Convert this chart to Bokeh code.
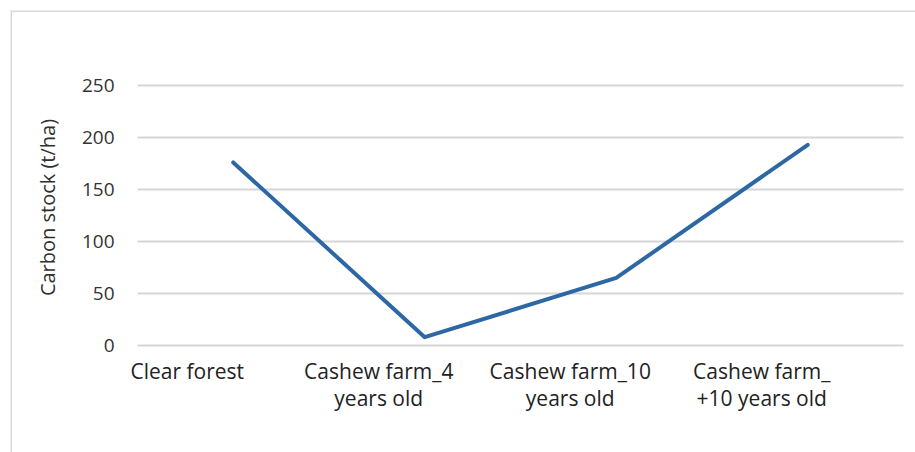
import math
from bokeh.plotting import figure
from bokeh.models import Range1d, Span
from bokeh.core.properties import value
from bokeh.embed import file_html
from bokeh.resources import INLINE

# Carbon stock per land-use stage
categories = ["Clear forest", "Cashew farm_4\nyears old",
              "Cashew farm_10\nyears old", "Cashew farm_\n+10 years old"]
carbon_stock = [176, 8, 65, 193]
y_ticks = [0, 50, 100, 150, 200, 250]
y_tick_labels = ["0", "50", "100", "150", "200", "250"]
y_title = "Carbon stock (t/ha)"

FONT = value("Open Sans")
LINE_BLUE = "#2d68a5"
GRID_GREY = "#d6d6d6"
BORDER_GREY = "#d9d9d9"

idx = list(range(len(categories)))

# the frame fills the whole chart area; one category step is 191.5 px,
# one value unit is 1.04 px
px_x, px_y = 191.5, 1.04
x_start = -0.5 - (137 - 10) / px_x
y_end = 250 + (85 - 10) / px_y
p = figure(width=915, height=452,
           x_range=Range1d(x_start, x_start + 905 / px_x),
           y_range=Range1d(y_end - 442 / px_y, y_end),
           output_backend="svg", toolbar_location=None,
           min_border_left=10, min_border_top=10,
           min_border_right=0, min_border_bottom=0)
p.axis.visible = False
p.grid.visible = False
p.outline_line_color = None
p.background_fill_color = "white"
p.border_fill_color = "white"

# chart-area border: top and left edges
p.add_layout(Span(location=x_start, dimension="height",
                  line_color=BORDER_GREY, line_width=3))
p.add_layout(Span(location=y_end, dimension="width",
                  line_color=BORDER_GREY, line_width=3))

# horizontal gridlines across the category span
n = len(categories)
p.segment(x0=[-0.5] * len(y_ticks), x1=[n - 0.5] * len(y_ticks),
          y0=y_ticks, y1=y_ticks, line_color=GRID_GREY, line_width=2)

# value tick labels
p.text(x=[-0.5] * len(y_ticks), y=y_ticks, text=y_tick_labels,
       x_offset=-23, text_align="right", text_baseline="middle",
       text_font=FONT, text_font_size="19px", text_color="#333333")

# value axis title
p.text(x=[-0.5], y=[sum(y_ticks) / len(y_ticks)], text=[y_title],
       x_offset=-90, y_offset=-8, angle=math.pi / 2,
       text_align="center", text_baseline="middle",
       text_font=FONT, text_font_size="20px", text_color="#303030")

# category labels
p.text(x=idx, y=[0] * n, text=categories, x_offset=-46, y_offset=11,
       text_align="center", text_baseline="top", text_font=FONT,
       text_font_size="21px", text_color="#222222", text_line_height=0.98)

# the series
p.line(x=idx, y=carbon_stock, line_color=LINE_BLUE, line_width=4,
       line_cap="round", line_join="round")

open("out.html", "w").write(file_html(p, INLINE))
